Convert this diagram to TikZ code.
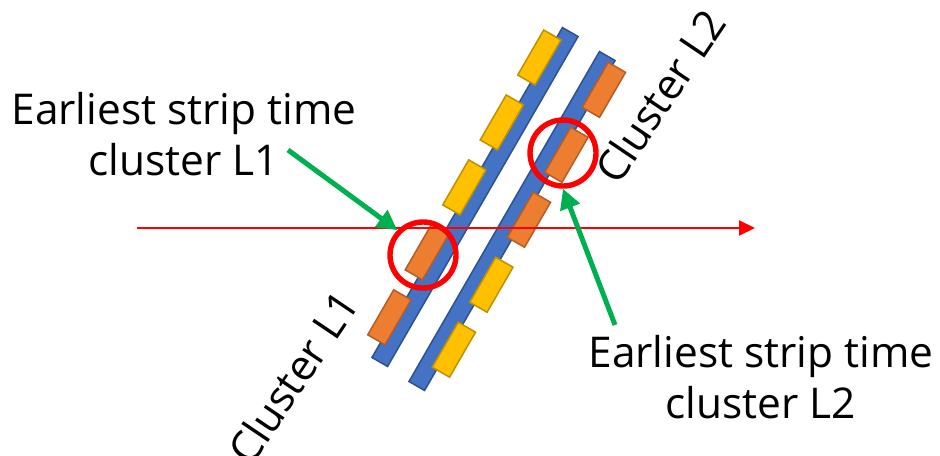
\documentclass[tikz,border=0pt]{standalone}
\usepackage{fontspec}
\setmainfont{Open Sans}
\usetikzlibrary{arrows.meta}
\definecolor{barblue}{HTML}{4472C4}
\definecolor{barline}{HTML}{2F528F}
\definecolor{stripyellow}{HTML}{FFC000}
\definecolor{striporange}{HTML}{ED7D31}
\definecolor{pointgreen}{HTML}{00B050}
\begin{document}
\begin{tikzpicture}[x=0.5pt,y=0.5pt,
  font=\fontsize{21.2}{25.5}\selectfont,
  bar/.style={fill=barblue,draw=barline,line width=0.75pt},
  strip/.style={fill=#1,draw=#1!75!black,line width=0.75pt},
  hit/.style={circle,draw=red,line width=2.7pt,minimum size=33pt,inner sep=0pt},
  beam/.style={red,line width=1pt,-{Triangle[length=8pt,width=7.5pt]}},
  pointer/.style={pointgreen,line width=2.5pt,-{Triangle[length=10pt,width=10pt]}}]
  \useasboundingbox (0,0) rectangle (940,-455);
  \begin{scope}[shift={(475,-197)},rotate=60]
    \draw[bar] (-190.5,-9) rectangle (190.5,9);
    \foreach \t/\c in {153/stripyellow,78/stripyellow,3/stripyellow,-72/striporange,-147/striporange}
      \draw[strip=\c] (\t-26,4) rectangle (\t+26,24);
  \end{scope}
  \begin{scope}[shift={(512,-221)},rotate=60]
    \draw[bar] (-190.5,-9) rectangle (190.5,9);
    \foreach \t/\c in {159.5/striporange,84.5/striporange,9.5/striporange,-65.5/stripyellow,-140.5/stripyellow}
      \draw[strip=\c] (\t-26,-24) rectangle (\t+26,-4);
  \end{scope}
  \coordinate (trackin) at (137,-228);
  \coordinate (trackout) at (755,-228);
  \draw[beam] (trackin) -- (trackout);
  \node[hit] (hitA) at (423,-255) {};
  \node[hit] (hitB) at (563,-153) {};
  \node[align=center] (earlyA) at (184,-134) {Earliest strip time\\cluster L1};
  \node[align=center] (earlyB) at (761,-377) {Earliest strip time\\cluster L2};
  \node[rotate=56] (clusA) at (293,-377) {Cluster L1};
  \node[rotate=56] (clusB) at (660,-96) {Cluster L2};
  \coordinate (tailA) at (288,-150);
  \coordinate (tailB) at (615,-325);
  \draw[pointer] (tailA) -- (hitA.136);
  \draw[pointer] (tailB) -- (hitB.270);
\end{tikzpicture}
\end{document}
